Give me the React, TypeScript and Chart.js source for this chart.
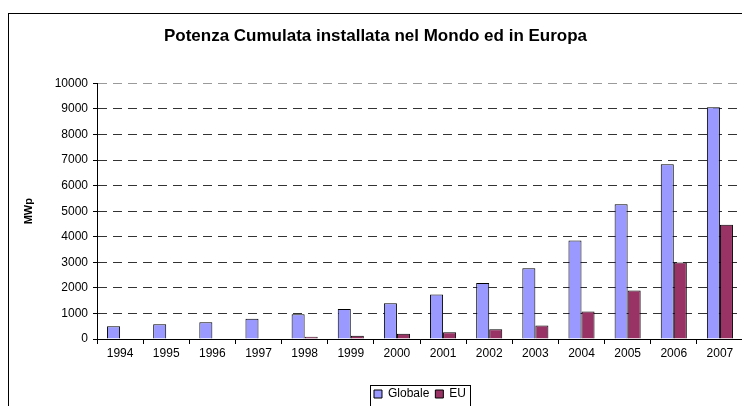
import React, { useEffect, useRef } from "react";
import { Chart, registerables } from "chart.js";

Chart.register(...registerables);

const years = ["1994", "1995", "1996", "1997", "1998", "1999", "2000", "2001", "2002", "2003", "2004", "2005", "2006", "2007"];
const globale = [500, 575, 655, 790, 965, 1170, 1400, 1745, 2190, 2770, 3850, 5270, 6840, 9070];
const eu = [null, null, null, null, 90, 130, 205, 265, 380, 530, 1080, 1900, 2990, 4470];
const titleText = "Potenza Cumulata installata nel Mondo ed in Europa";
const yTitle = "MWp";
const seriesNames = ["Globale", "EU"];

const frame = {
  id: "frame",
  beforeDraw(chart: any) {
    const ctx = chart.ctx;
    ctx.save();
    ctx.fillStyle = "#fff";
    ctx.fillRect(0, 0, chart.width, chart.height);
    ctx.strokeStyle = "#000";
    ctx.lineWidth = 1;
    ctx.strokeRect(0.5, 5.5, chart.width - 1, chart.height - 6);
    ctx.restore();
  },
  afterDraw(chart: any) {
    const lg = chart.legend;
    if (!lg || !lg.legendHitBoxes || !lg.legendHitBoxes.length) return;
    const hb = lg.legendHitBoxes;
    const left = Math.min(...hb.map((h: any) => h.left)) - 4;
    const right = Math.max(...hb.map((h: any) => h.left + h.width)) + 4;
    const top = Math.min(...hb.map((h: any) => h.top)) - 3;
    const ctx = chart.ctx;
    ctx.save();
    ctx.strokeStyle = "#000";
    ctx.lineWidth = 1;
    ctx.strokeRect(Math.round(left) + 0.5, Math.round(top) + 0.5, Math.round(right - left), 60);
    ctx.restore();
  },
};

export default function App() {
  const ref = useRef<HTMLCanvasElement>(null);
  useEffect(() => {
    if (!ref.current) return;
    Chart.defaults.font.family = "'Liberation Sans', Arial, sans-serif";
    Chart.defaults.color = "#000";
    const chart = new Chart(ref.current, {
      type: "bar",
      data: {
        labels: years,
        datasets: [
          {
            label: seriesNames[0],
            data: globale,
            backgroundColor: "#9999FF",
            borderColor: "#000",
            borderWidth: 1,
            categoryPercentage: 0.565,
            barPercentage: 1,
          },
          {
            label: seriesNames[1],
            data: eu as any,
            backgroundColor: "#993366",
            borderColor: "#000",
            borderWidth: 1,
            categoryPercentage: 0.565,
            barPercentage: 1,
          },
        ],
      },
      options: {
        animation: false,
        responsive: false,
        devicePixelRatio: 1,
        layout: { padding: { top: 0, left: 0, right: 11, bottom: 18 } },
        plugins: {
          title: {
            display: true,
            text: titleText,
            font: { size: 17, weight: "bold" },
            color: "#000",
            padding: { top: 18, bottom: 37 },
          },
          legend: {
            position: "bottom",
            fullSize: false,
            labels: {
              boxWidth: 8,
              boxHeight: 8,
              padding: 6,
              font: { size: 12 },
              color: "#000",
            },
          },
          tooltip: { enabled: false },
        },
        scales: {
          x: {
            offset: true,
            afterFit: (s: any) => {
              s.height = 43;
            },
            grid: {
              display: true,
              offset: true,
              drawOnChartArea: false,
              drawTicks: true,
              tickLength: 5,
              tickColor: "#000",
            },
            border: { display: true, color: "#000", width: 1 },
            ticks: { padding: 2, font: { size: 12 }, color: "#000", maxRotation: 0, autoSkip: false },
          },
          y: {
            min: 0,
            max: 10000,
            afterFit: (s: any) => {
              s.width = 89;
            },
            ticks: {
              stepSize: 1000,
              padding: 5,
              font: { size: 12 },
              color: "#000",
              callback: (v: any) => String(v),
            },
            grid: {
              color: (c: any) => (c.tick && c.tick.value === 10000 ? "#9a9a9a" : "#333"),
              tickColor: "#000",
              tickLength: 4,
              tickBorderDash: [],
            },
            border: { display: true, color: "#000", width: 1, dash: [9, 6] },
            title: {
              display: true,
              text: yTitle,
              font: { size: 11, weight: "bold" },
              color: "#000",
              padding: { top: 14.4, bottom: 0 },
            },
          },
        },
      },
      plugins: [frame],
    });
    return () => chart.destroy();
  }, []);
  return (
    <div style={{ position: "fixed", left: 0, top: 0, width: 742, height: 406, overflow: "hidden", background: "#fff" }}>
      <canvas ref={ref} width={746} height={420} style={{ position: "absolute", left: 8, top: 8, width: 746, height: 420 }} />
    </div>
  );
}
